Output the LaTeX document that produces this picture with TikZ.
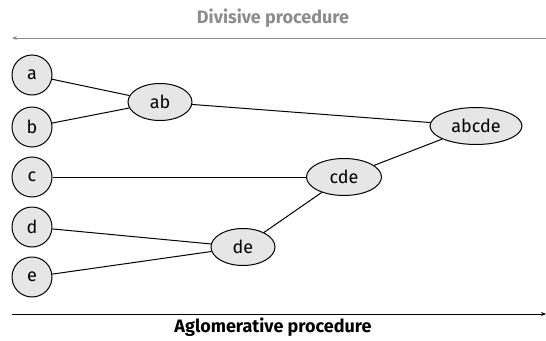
\documentclass[tikz,border=0pt]{standalone}
\usepackage{fontspec}
\setmainfont{Fira Sans}
\usetikzlibrary{shapes.geometric,arrows.meta}
\definecolor{nodefill}{HTML}{E6E6E6}
\definecolor{divgray}{HTML}{8C8C8C}
\tikzset{
  leaf/.style={circle,draw,line width=1pt,fill=nodefill,minimum size=40pt,inner sep=0pt,font=\fontsize{18}{20}\selectfont},
  merged/.style={ellipse,draw,line width=1pt,fill=nodefill,minimum height=37pt,inner sep=0pt,font=\fontsize{18}{20}\selectfont},
  link/.style={line width=1pt},
  title/.style={font=\bfseries\fontsize{18}{20}\selectfont}
}
\begin{document}
\begin{tikzpicture}[x=1pt,y=-1pt]
\useasboundingbox (0,0) rectangle (546,340);
\node[leaf] (a) at (32,75) {a};
\node[leaf] (b) at (32,127) {b};
\node[leaf] (c) at (32,177) {c};
\node[leaf] (d) at (32,227) {d};
\node[leaf] (e) at (32,277) {e};
\node[merged,minimum width=64pt] (ab) at (160,102) {ab};
\node[merged,minimum width=92pt] (abcde) at (476,126) {abcde};
\node[merged,minimum width=75pt] (cde) at (344,177) {cde};
\node[merged,minimum width=64pt] (de) at (243,247) {de};
\draw[link] (a) -- (ab);
\draw[link] (b) -- (ab);
\draw[link] (ab) -- (abcde);
\draw[link] (c) -- (cde);
\draw[link] (cde) -- (abcde);
\draw[link] (d) -- (de);
\draw[link] (e) -- (de);
\draw[link] (de) -- (cde);
\coordinate (dR) at (546,38);
\coordinate (dL) at (12,38);
\coordinate (aL) at (12,314);
\coordinate (aR) at (546,314);
\draw[divgray,line width=1pt,-{Stealth[length=5pt,width=4pt]}] (dR) -- (dL);
\draw[line width=1pt,-{Stealth[length=5pt,width=4pt]}] (aL) -- (aR);
\node[title,text=divgray] (dt) at (273,18) {Divisive procedure};
\node[title] (at) at (273,327) {Aglomerative procedure};
\end{tikzpicture}
\end{document}
